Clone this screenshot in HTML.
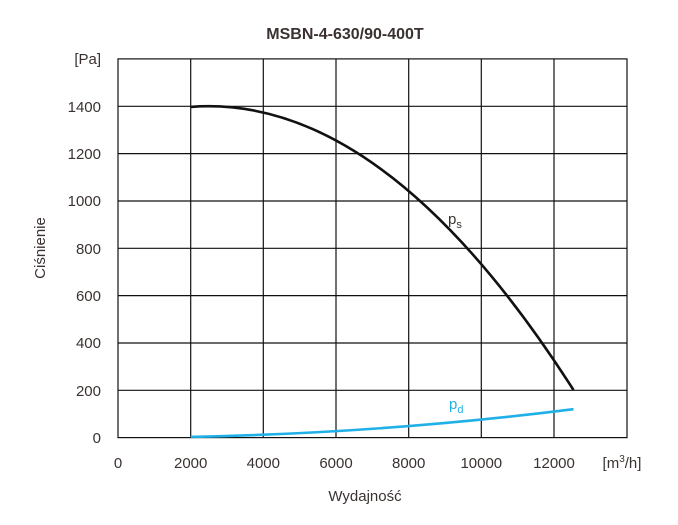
<!DOCTYPE html>
<html><head><meta charset="utf-8"><style>
body{margin:0;background:#fff}
svg text{font-family:"Liberation Sans","DejaVu Sans",sans-serif;fill:#3a3230}
</style></head><body>
<svg width="678" height="520" viewBox="0 0 678 520" xmlns="http://www.w3.org/2000/svg">
<text x="345" y="39" text-anchor="middle" font-size="16" font-weight="bold" fill="#111">MSBN-4-630/90-400T</text>
<g stroke="#111" stroke-width="1.2" fill="none">
<rect x="118" y="58.9" width="509" height="378.7"/>
<line x1="190.7" y1="58.9" x2="190.7" y2="437.6"/>
<line x1="263.3" y1="58.9" x2="263.3" y2="437.6"/>
<line x1="336" y1="58.9" x2="336" y2="437.6"/>
<line x1="408.7" y1="58.9" x2="408.7" y2="437.6"/>
<line x1="481.3" y1="58.9" x2="481.3" y2="437.6"/>
<line x1="554" y1="58.9" x2="554" y2="437.6"/>
<line x1="118" y1="106.3" x2="627" y2="106.3"/>
<line x1="118" y1="153.6" x2="627" y2="153.6"/>
<line x1="118" y1="201" x2="627" y2="201"/>
<line x1="118" y1="248.3" x2="627" y2="248.3"/>
<line x1="118" y1="295.6" x2="627" y2="295.6"/>
<line x1="118" y1="343" x2="627" y2="343"/>
<line x1="118" y1="390.3" x2="627" y2="390.3"/>
</g>
<g font-size="15" text-anchor="end">
<text x="101" y="64">[Pa]</text>
<text x="101" y="112">1400</text>
<text x="101" y="159">1200</text>
<text x="101" y="206">1000</text>
<text x="101" y="254">800</text>
<text x="101" y="301">600</text>
<text x="101" y="348">400</text>
<text x="101" y="396">200</text>
<text x="101" y="443">0</text>
</g>
<g font-size="15" text-anchor="middle">
<text x="118" y="468">0</text>
<text x="190.7" y="468">2000</text>
<text x="263.3" y="468">4000</text>
<text x="336" y="468">6000</text>
<text x="408.7" y="468">8000</text>
<text x="481.3" y="468">10000</text>
<text x="554" y="468">12000</text>
<text x="622" y="468">[m<tspan dy="-6" font-size="10">3</tspan><tspan dy="6">/h]</tspan></text>
<text x="365" y="501">Wydajność</text>
</g>
<text transform="translate(45,248) rotate(-90)" font-size="15" text-anchor="middle">Ciśnienie</text>
<path fill="none" stroke="#111" stroke-width="2.6" d="M190.7,106.9 Q383.2,92.2 573.5,390"/>
<path fill="none" stroke="#1fb0e8" stroke-width="2.6" d="M190.7,436.9 Q383.2,433.1 573.5,409.2"/>
<text x="448" y="224" font-size="15">p<tspan dy="4" font-size="11">s</tspan></text>
<text x="449" y="409" font-size="15" style="fill:#1fb0e8">p<tspan dy="4" font-size="11" style="fill:#1fb0e8">d</tspan></text>
</svg>
</body></html>
